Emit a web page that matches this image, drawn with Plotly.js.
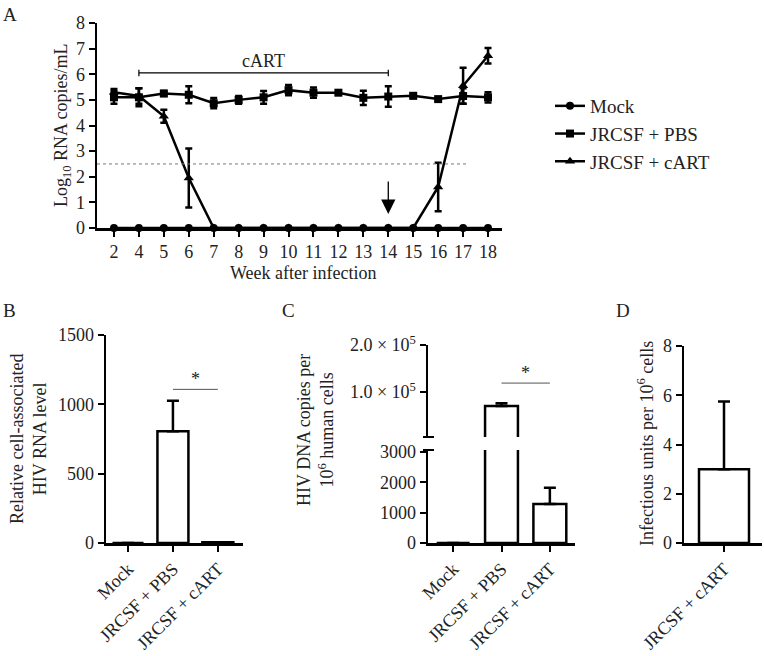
<!DOCTYPE html>
<html>
<head>
<meta charset="utf-8">
<script src="https://cdn.plot.ly/plotly-3.0.1.min.js"></script>
<style>
  html, body { margin: 0; padding: 0; background: #fff; }
  #chart { width: 764px; height: 656px; }
</style>
</head>
<body>
<div id="chart"></div>
<script>
// Panel A: plasma viral load by week
const weeks = [2, 4, 5, 6, 7, 8, 9, 10, 11, 12, 13, 14, 15, 16, 17, 18];
const mockVals = [0, 0, 0, 0, 0, 0, 0, 0, 0, 0, 0, 0, 0, 0, 0, 0];
const pbsVals = [5.1, 5.1, 5.25, 5.2, 4.87, 5.0, 5.1, 5.38, 5.28, 5.28, 5.08, 5.13, 5.16, 5.03, 5.15, 5.1];
const pbsErr = [0.25, 0.35, 0.1, 0.33, 0.2, 0.15, 0.25, 0.2, 0.2, 0.05, 0.28, 0.4, 0.1, 0.05, 0.3, 0.2];
const cartVals = [5.3, 5.15, 4.36, 1.95, 0, 0, 0, 0, 0, 0, 0, 0, 0, 1.6, 5.55, 6.72];
const cartErr = [0.12, 0.3, 0.25, 1.15, 0, 0, 0, 0, 0, 0, 0, 0, 0, 0.95, 0.7, 0.3];
const detectionLimit = 2.5;
const cartStart = 4, cartStop = 14;

// Panels B-D
const groups = ['Mock', 'JRCSF + PBS', 'JRCSF + cART'];
const rnaVals = [0, 805, 5];
const rnaErr = [0, 220, 0];
const dnaVals = [0, 70000, 1287];
const dnaErr = [0, 6000, 530];
const iuGroups = ['JRCSF + cART'];
const iuVals = [3];
const iuErr = [2.75];

const W = 764, H = 656;
const px = x => x / W;
const py = y => 1 - y / H;
const FONT = 'Liberation Serif, Times New Roman, serif';
const TXT = '#222';

const errStyle = { type: 'data', color: '#000', thickness: 2.5, width: 3.5 };

const traces = [
  {
    x: weeks, y: mockVals, name: 'Mock', type: 'scatter', mode: 'lines+markers',
    line: { color: '#000', width: 2.5 }, marker: { symbol: 'circle', size: 8, color: '#000' },
    cliponaxis: false, xaxis: 'x', yaxis: 'y'
  },
  {
    x: weeks, y: pbsVals, name: 'JRCSF + PBS', type: 'scatter', mode: 'lines+markers',
    line: { color: '#000', width: 2.5 }, marker: { symbol: 'square', size: 8, color: '#000' },
    error_y: Object.assign({ array: pbsErr }, errStyle),
    cliponaxis: false, xaxis: 'x', yaxis: 'y'
  },
  {
    x: weeks, y: cartVals, name: 'JRCSF + cART', type: 'scatter', mode: 'lines+markers',
    line: { color: '#000', width: 2.5 }, marker: { symbol: 'triangle-up', size: 9, color: '#000' },
    error_y: Object.assign({ array: cartErr }, errStyle),
    cliponaxis: false, xaxis: 'x', yaxis: 'y'
  }
];

const barStyle = { color: '#fff', line: { color: '#000', width: 2.5 } };
const barErr = (arr) => ({ type: 'data', array: arr, symmetric: false, arrayminus: arr.map(() => 0), color: '#000', thickness: 2.5, width: 6 });

traces.push({
  x: groups, y: rnaVals, type: 'bar', width: 0.69, marker: barStyle,
  error_y: barErr(rnaErr), showlegend: false, xaxis: 'x2', yaxis: 'y2'
});
// C lower segment
traces.push({
  x: groups, y: dnaVals, type: 'bar', width: 0.68, marker: barStyle,
  error_y: barErr(dnaErr), showlegend: false, xaxis: 'x3', yaxis: 'y3'
});
// C upper segment
traces.push({
  x: groups, y: dnaVals, type: 'bar', width: 0.68, marker: barStyle,
  error_y: barErr(dnaErr), showlegend: false, xaxis: 'x3', yaxis: 'y4'
});
traces.push({
  x: iuGroups, y: iuVals, type: 'bar', width: 1.0, marker: barStyle,
  error_y: barErr(iuErr), showlegend: false, xaxis: 'x5', yaxis: 'y5'
});

const axBase = {
  showline: true, linecolor: '#000', linewidth: 2.5, showgrid: false, zeroline: false,
  ticks: 'outside', ticklen: 6, tickwidth: 2, tickcolor: '#000',
  tickfont: { family: FONT, size: 18, color: TXT }, fixedrange: true
};
const ax = o => Object.assign({}, axBase, o);

const iStart = weeks.indexOf(cartStart), iStop = weeks.indexOf(cartStop);
const iMid = (iStart + iStop) / 2;

const shapes = [
  // detection limit
  { type: 'line', xref: 'paper', yref: 'y', x0: px(97), x1: px(467), y0: detectionLimit, y1: detectionLimit,
    line: { color: '#777', width: 1, dash: 'dot' } },
  // cART bracket
  { type: 'line', xref: 'x', yref: 'y', x0: iStart, x1: iStop, y0: 6.05, y1: 6.05, line: { color: '#000', width: 1.2 } },
  { type: 'line', xref: 'x', yref: 'y', x0: iStart, x1: iStart, y0: 5.92, y1: 6.18, line: { color: '#000', width: 1.2 } },
  { type: 'line', xref: 'x', yref: 'y', x0: iStop, x1: iStop, y0: 5.92, y1: 6.18, line: { color: '#000', width: 1.2 } },
  // significance bars
  { type: 'line', xref: 'x2', yref: 'y2', x0: 1, x1: 2, y0: 1108, y1: 1108, line: { color: '#555', width: 1 } },
  { type: 'line', xref: 'x3', yref: 'y4', x0: 1, x1: 2, y0: 119000, y1: 119000, line: { color: '#555', width: 1 } },
  // axis break marks
  { type: 'line', xref: 'paper', yref: 'paper', x0: px(423), x1: px(434), y0: py(437), y1: py(437), line: { color: '#000', width: 2 } },
  { type: 'line', xref: 'paper', yref: 'paper', x0: px(423), x1: px(434), y0: py(450), y1: py(450), line: { color: '#000', width: 2 } }
];

const annText = (x, y, text, o) => Object.assign({
  xref: 'paper', yref: 'paper', x: px(x), y: py(y), text: text, showarrow: false,
  font: { family: FONT, size: 18, color: TXT }, xanchor: 'center', yanchor: 'middle'
}, o || {});
const labelFont = { family: FONT, size: 19, color: TXT };

const annotations = [
  annText(10, 14, 'A', { font: labelFont }),
  annText(9, 310, 'B', { font: labelFont }),
  annText(288, 310, 'C', { font: labelFont }),
  annText(623, 310, 'D', { font: labelFont }),
  annText(62, 125, 'Log<sub>10</sub> RNA copies/mL', { textangle: -90 }),
  annText(303, 273, 'Week after infection'),
  annText(28, 439, 'Relative cell-associated<br>HIV RNA level', { textangle: -90 }),
  annText(315, 430, 'HIV DNA copies per<br>10<sup>6</sup> human cells', { textangle: -90 }),
  annText(645, 444, 'Infectious units per 10<sup>6</sup> cells', { textangle: -90 }),
  // cART label
  { xref: 'x', yref: 'y', x: iMid, y: 6.5, text: 'cART', showarrow: false,
    font: { family: FONT, size: 18, color: TXT } },
  // treatment stop arrow
  { xref: 'x', yref: 'y', x: iStop, y: 0.55, ax: 0, ay: -34, text: '', showarrow: true,
    arrowhead: 2, arrowsize: 2.2, arrowwidth: 1.3, arrowcolor: '#000' },
  // stars
  { xref: 'x2', yref: 'y2', x: 1.5, y: 1185, text: '*', showarrow: false, font: { family: FONT, size: 18, color: TXT } },
  { xref: 'x3', yref: 'y4', x: 1.5, y: 141000, text: '*', showarrow: false, font: { family: FONT, size: 18, color: TXT } }
];

const layout = {
  width: W, height: H,
  margin: { l: 0, r: 0, t: 0, b: 0 },
  paper_bgcolor: '#fff', plot_bgcolor: 'rgba(0,0,0,0)',
  font: { family: FONT, color: TXT },
  showlegend: true,
  legend: {
    x: px(550), y: py(87), xanchor: 'left', yanchor: 'top',
    font: { family: FONT, size: 19, color: TXT }, itemwidth: 30, tracegroupgap: 0
  },
  xaxis: ax({ domain: [px(97), px(502)], anchor: 'y', type: 'category', range: [-0.68, 15.56] }),
  yaxis: ax({ domain: [py(228), py(23)], anchor: 'x', range: [0, 8], dtick: 1 }),
  xaxis2: ax({ domain: [px(106), px(243)], anchor: 'y2', type: 'category', range: [-0.49, 2.56], tickangle: -45 }),
  yaxis2: ax({ domain: [py(543), py(335)], anchor: 'x2', range: [0, 1500], dtick: 500 }),
  xaxis3: ax({ domain: [px(428), px(575)], anchor: 'y3', type: 'category', range: [-0.52, 2.52], tickangle: -45 }),
  yaxis3: ax({ domain: [py(543), py(450)], anchor: 'x3', range: [0, 3060], tickvals: [0, 1000, 2000, 3000] }),
  yaxis4: ax({ domain: [py(437), py(345)], anchor: 'x3', range: [4300, 200000],
    tickvals: [100000, 200000], ticktext: ['1.0 × 10<sup>5</sup>', '2.0 × 10<sup>5</sup>'] }),
  xaxis5: ax({ domain: [px(684), px(762)], anchor: 'y5', type: 'category', range: [-0.8, 0.76], tickangle: -45 }),
  yaxis5: ax({ domain: [py(543), py(346)], anchor: 'x5', range: [0, 8], dtick: 2 }),
  shapes: shapes,
  annotations: annotations
};

Plotly.newPlot('chart', traces, layout, { displayModeBar: false, staticPlot: true });
</script>
</body>
</html>
